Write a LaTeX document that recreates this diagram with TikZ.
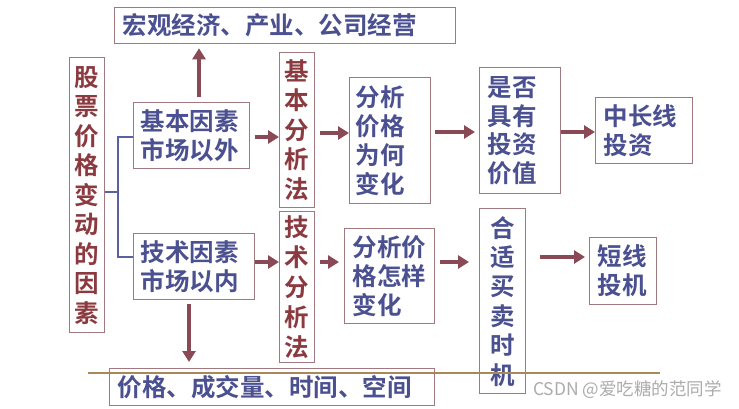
\documentclass[tikz,border=0pt]{standalone}
\usepackage{fontspec}
\newfontfamily\cjk{Noto Sans CJK SC}[BoldFont={Noto Sans CJK SC Bold}]
\usetikzlibrary{arrows.meta}
\definecolor{txtblue}{HTML}{4A5090}
\definecolor{txtred}{HTML}{8B3A40}
\definecolor{boxline}{HTML}{A07880}
\definecolor{arrowc}{HTML}{8A4A55}
\definecolor{brk}{HTML}{5A60A0}
\definecolor{tan}{HTML}{A88A5A}
\tikzset{
  box/.style={draw=boxline, line width=1.3pt, anchor=north west, inner ysep=0pt,
    font=\cjk\bfseries\fontsize{24.5}{29}\selectfont, text=txtblue, align=left},
  vbox/.style={box, align=center, text=txtred, inner xsep=0pt},
  arr/.style={draw=arrowc, line width=3.5pt, -{Triangle[length=11pt,width=13pt]}},
  brkline/.style={draw=brk, line width=2pt},
}
\begin{document}
\begin{tikzpicture}[x=1pt,y=-1pt]
\useasboundingbox (0,0) rectangle (739,409);
\fill[white] (0,0) rectangle (739,409);
% boxes
\node[box, inner xsep=8pt, text width=325pt, minimum height=36pt] (macro) at (114,7) {宏观经济、产业、公司经营};
\node[vbox, text width=35pt, minimum height=275pt, font=\cjk\bfseries\fontsize{24.5}{29.5}\selectfont] (gp) at (69,57) {股\\票\\价\\格\\变\\动\\的\\因\\素};
\node[box, inner xsep=7pt, text width=102pt, minimum height=66pt] (jb) at (133,102) {基本因素\\市场以外};
\node[box, inner xsep=7pt, text width=107pt, minimum height=66pt] (js) at (133,233) {技术因素\\市场以内};
\node[vbox, text width=35pt, minimum height=155pt, font=\cjk\bfseries\fontsize{24.5}{29.5}\selectfont] (jbf) at (279,52) {基\\本\\分\\析\\法};
\node[vbox, text width=35pt, minimum height=151pt, font=\cjk\bfseries\fontsize{24.5}{30}\selectfont] (jsf) at (279,211) {技\\术\\分\\析\\法};
\node[box, inner xsep=6pt, text width=69pt, minimum height=126pt] (wh) at (349,77) {分析\\价格\\为何\\变化};
\node[box, inner xsep=8pt, text width=74pt, minimum height=95pt] (zy) at (344,228) {分析价\\格怎样\\变化};
\node[box, inner xsep=8pt, text width=65pt, minimum height=126pt, font=\cjk\bfseries\fontsize{24.5}{28.5}\selectfont] (sf) at (479,67) {是否\\具有\\投资\\价值};
\node[box, inner xsep=8pt, text width=81pt, minimum height=66pt] (zc) at (595,97) {中长线\\投资};
\node[vbox, text width=46pt, minimum height=185pt, text=txtblue, font=\cjk\bfseries\fontsize{24.5}{29.4}\selectfont] (hs) at (479,208) {合\\适\\买\\卖\\时\\机};
\node[box, inner xsep=8pt, text width=51pt, minimum height=67pt] (dx) at (589,237) {短线\\投机};
\node[box, inner xsep=8pt, text width=309pt, minimum height=37pt] (jg) at (109,368) {价格、成交量、时间、空间};
% tan line
\coordinate (tl) at (88,373);
\coordinate (tr) at (660,373);
\draw[tan, line width=1.3pt] (tl) -- (tr);
% bracket
\coordinate (bm) at (118,192);
\coordinate (bt) at (118,137);
\coordinate (bb) at (118,257);
\draw[brkline] (gp.east |- bm) -- (bm);
\draw[brkline] (jb.west |- bt) -- (bt) -- (bb) -- (js.west |- bb);
% arrows
\draw[arr] ([yshift=5pt]jb.north -| 199,0) -- ([yshift=-4pt]macro.south -| 199,0);
\draw[arr] ([xshift=5pt]jb.east |- 0,137) -- (jbf.west |- 0,137);
\draw[arr] ([xshift=5pt]jbf.east |- 0,133) -- (wh.west |- 0,133);
\draw[arr] ([xshift=4pt]wh.east |- 0,132) -- ([xshift=-4pt]sf.west |- 0,132);
\draw[arr] (sf.east |- 0,132) -- (zc.west |- 0,132);
\draw[arr] ([yshift=-4pt]js.south -| 189,0) -- (189,362);
\draw[arr] (js.east |- 0,262) -- (jsf.west |- 0,262);
\draw[arr] ([xshift=5pt]jsf.east |- 0,262) -- ([xshift=-5pt]zy.west |- 0,262);
\draw[arr] ([xshift=5pt]zy.east |- 0,262) -- ([xshift=-10pt]hs.west |- 0,262);
\draw[arr] ([xshift=14pt]hs.east |- 0,257) -- ([xshift=-4pt]dx.west |- 0,257);
% watermark
\node[font=\fontspec{Noto Sans CJK SC}\fontsize{17.5}{20}\selectfont, text=gray!65, anchor=west, inner sep=0pt] (wm) at (533,390) {CSDN @爱吃糖的范同学};
\end{tikzpicture}
\end{document}
